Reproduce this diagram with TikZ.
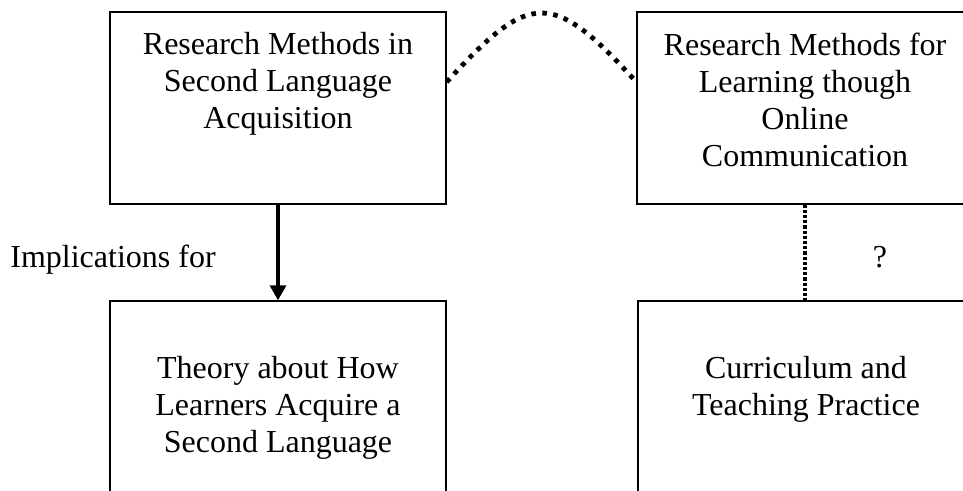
\documentclass[tikz,border=0pt]{standalone}
\usepackage{fontspec}
\setmainfont{Liberation Serif}
\usetikzlibrary{positioning,arrows.meta}

\begin{document}
\begin{tikzpicture}[%%
  x=0.5pt,y=-0.5pt,%%
  boxStyle/.style={draw,line width=0.65pt,minimum width=168pt,minimum height=96pt,inner sep=0pt},%%
  textStyle/.style={align=center,inner sep=0pt,font=\fontsize{16pt}{18.5pt}\selectfont},%%
  arrowStyle/.style={-{Triangle[length=7.5pt,width=8pt]},line width=1.6pt},%%
  dotStyle/.style={line width=1.8pt,dash pattern=on 1.6pt off 1pt},%%
  curveStyle/.style={line width=2.4pt,dash pattern=on 2.3pt off 3.2pt}%%
]
%%
\useasboundingbox (0,0) rectangle (963,491);
\clip (0,0) rectangle (963,491);
%%
%% The four boxes.
\node[boxStyle] (methodsSLA) at (278,108) {};
\node[boxStyle] (methodsOnline) at (805,108) {};
\node[boxStyle] (theoryBox) at (278,397) {};
\node[boxStyle] (curriculumBox) at (806,397) {};
%% Texts inside the boxes.
\node[textStyle,below=10.5pt of methodsSLA.north] (methodsSLAText)
  {Research Methods in\\Second Language\\Acquisition};
\node[textStyle,below=10.5pt of methodsOnline.north] (methodsOnlineText)
  {Research Methods for\\Learning though\\Online\\Communication};
\node[textStyle,below=28pt of theoryBox.north] (theoryText)
  {Theory about How\\Learners Acquire a\\Second Language};
\node[textStyle,below=28pt of curriculumBox.north] (curriculumText)
  {Curriculum and\\Teaching Practice};
%% Labels between the rows.
\node[textStyle,anchor=base west] (implLabel) at (10,268) {Implications for};
\node[textStyle,anchor=base] (questionLabel) at (880,268) {?};
%%
%% Connectors.
\draw[arrowStyle] (methodsSLA) -- (theoryBox);
\draw[dotStyle] (methodsOnline.south) -- (methodsOnline.south |- curriculumBox.north);
\draw[curveStyle] ([yshift=13pt]methodsSLA.east)
  .. controls +(84,-92) and +(-84,-92) .. ([yshift=13pt]methodsOnline.west);
\end{tikzpicture}
\end{document}
